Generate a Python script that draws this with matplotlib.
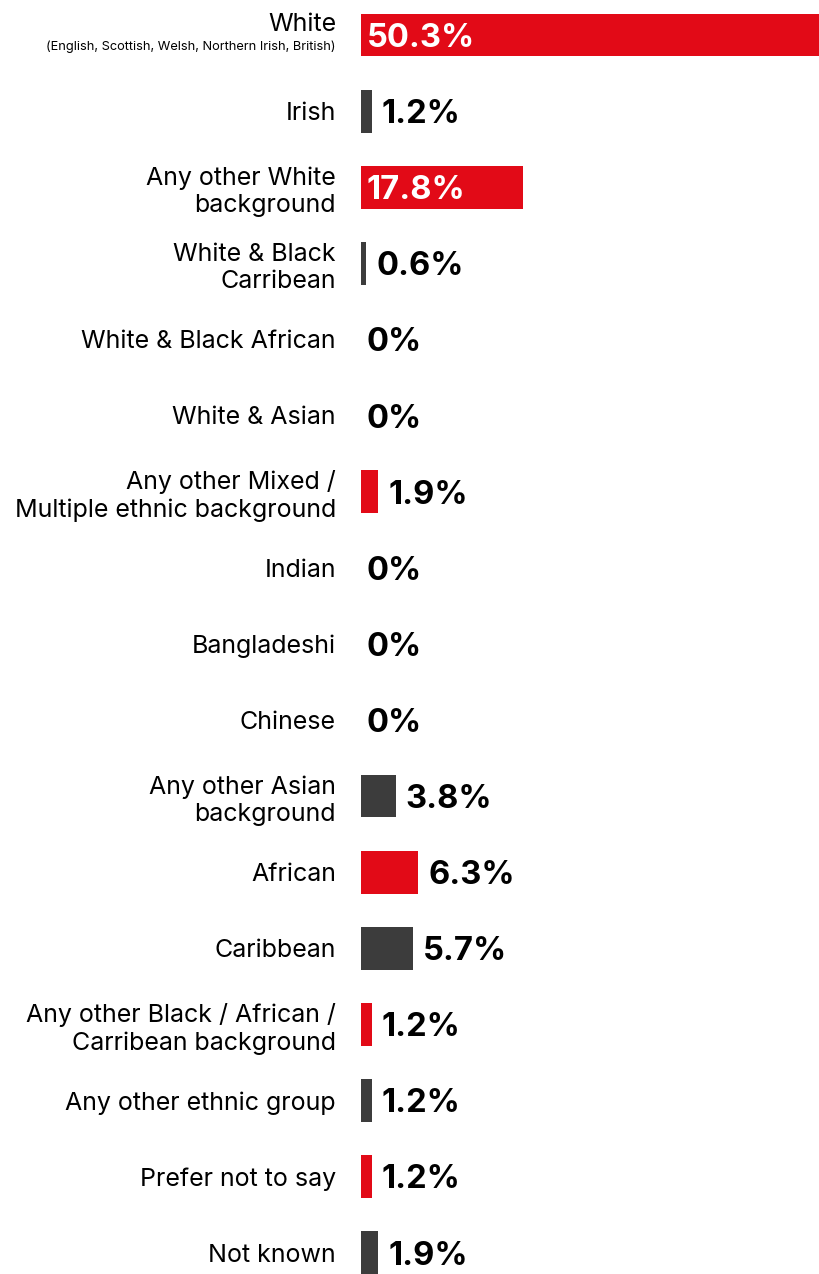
import matplotlib.pyplot as plt

categories = [
    "White",
    "Irish",
    "Any other White\nbackground",
    "White & Black\nCarribean",
    "White & Black African",
    "White & Asian",
    "Any other Mixed /\nMultiple ethnic background",
    "Indian",
    "Bangladeshi",
    "Chinese",
    "Any other Asian\nbackground",
    "African",
    "Caribbean",
    "Any other Black / African /\nCarribean background",
    "Any other ethnic group",
    "Prefer not to say",
    "Not known",
]
values = [50.3, 1.2, 17.8, 0.6, 0, 0, 1.9, 0, 0, 0, 3.8, 6.3, 5.7, 1.2, 1.2, 1.2, 1.9]
white_note = "(English, Scottish, Welsh, Northern Irish, British)"

RED = "#e20a17"
GREY = "#3c3c3c"

plt.rcParams['font.family'] = ['Inter', 'DejaVu Sans']

W, H = 820, 1274
fig = plt.figure(figsize=(W / 100, H / 100), dpi=100)
fig.patch.set_facecolor('white')

# bars start at x=361px and the longest one runs to the right edge
ax = fig.add_axes([361 / W, 0, 459 / W, 1])
ax.set_xlim(0, max(values))
row_gap = 76.1
first_row = 35.0
ax.set_ylim((H - first_row) / row_gap, -first_row / row_gap)
ax.axis('off')

# colours alternate red / grey over the non-zero bars
colors = []
k = 0
for v in values:
    if v > 0:
        colors.append(RED if k % 2 == 0 else GREY)
        k += 1
    else:
        colors.append(GREY)

ys = list(range(len(values)))
bars = ax.barh(ys, values, height=0.565, color=colors, clip_on=False)

fig.canvas.draw()
renderer = fig.canvas.get_renderer()

for y, v, bar in zip(ys, values, bars):
    label = f"{v:g}%"
    t = ax.annotate(label, (v, y), xytext=(4, 0), textcoords='offset points',
                    ha='left', va='center_baseline', fontsize=23.5,
                    fontweight='bold', color='white')
    # keep the value inside the bar when it fits, otherwise put it after
    tw = t.get_window_extent(renderer).width
    bw = bar.get_window_extent(renderer).width
    if tw + 12 <= bw:
        t.xy = (0, y)
    else:
        t.set_color('black')
        t.set_position((7 if v > 0 else 4, 0))

# category labels on the left
lab_x = 336 / W
for y, name in zip(ys, categories):
    fy = 1 - (first_row + row_gap * y) / H
    if name == "White":
        fig.text(lab_x, fy + 13 / H, name, ha='right', va='center_baseline',
                 fontsize=18)
        fig.text(lab_x, fy - 10 / H, white_note, ha='right',
                 va='center_baseline', fontsize=9.2)
    else:
        fig.text(lab_x, fy, name, ha='right', va='center_baseline', fontsize=18,
                 multialignment='right', linespacing=1.22)

fig.savefig('out.png', dpi=100, facecolor='white')
